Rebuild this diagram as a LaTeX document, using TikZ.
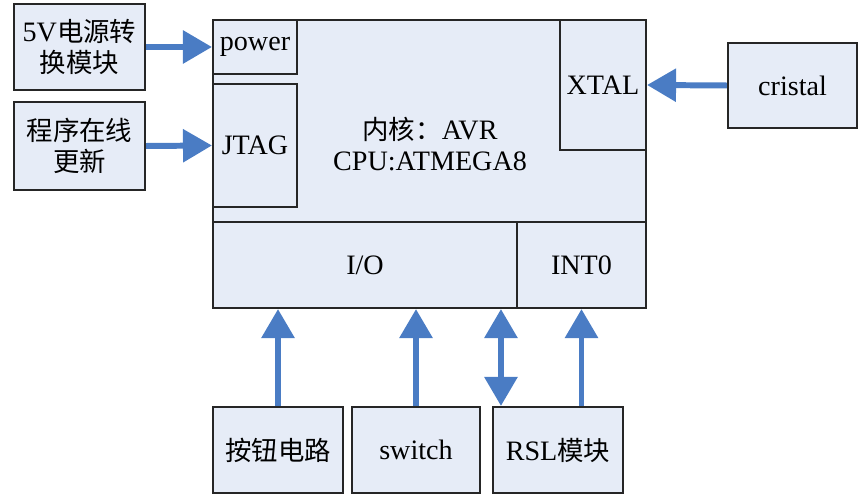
\documentclass[tikz,border=0pt]{standalone}
\usepackage{fontspec}
\setmainfont{Liberation Serif}
\newfontfamily\cjk[Scale=0.94]{Noto Sans CJK SC}
\usetikzlibrary{arrows.meta}
\definecolor{boxfill}{HTML}{E6ECF7}
\definecolor{arrblue}{HTML}{4A7CC4}
\tikzset{
  box/.style={draw=black!85, line width=1.2pt, fill=boxfill, inner sep=0pt, font=\fontsize{16}{18}\selectfont, align=center},
  arr/.style={draw=arrblue, line width=3.4pt, -{Triangle[length=0.58cm,width=0.64cm]}},
  dblarr/.style={draw=arrblue, line width=3.4pt, {Triangle[length=0.58cm,width=0.64cm]}-{Triangle[length=0.58cm,width=0.64cm]}}
}
\begin{document}
\begin{tikzpicture}[x=0.02cm, y=-0.02cm]
    \useasboundingbox (0,0) rectangle (865,499);
\node[box, minimum width=8.66cm, minimum height=5.76cm] (mcu) at (429.5,164) {};
\node[box, minimum width=1.68cm, minimum height=1.08cm] (power) at (255,47) {power};
\node[box, minimum width=1.68cm, minimum height=2.46cm] (jtag) at (255,145.5) {JTAG};
\node[box, minimum width=1.72cm, minimum height=2.6cm] (xtal) at (603,85) {XTAL};
\node[box, minimum width=6.08cm, minimum height=1.72cm] (io) at (365,265) {I/O};
\node[box, minimum width=2.58cm, minimum height=1.72cm] (int0) at (581.5,265) {INT0};
\node[font=\fontsize{16}{18}\selectfont, align=center] (core) at (430,144) {{\cjk 内核：}AVR\\CPU:ATMEGA8};
    % outside modules
\node[box, minimum width=2.62cm, minimum height=1.72cm] (psu) at (79.5,47) {5V{\cjk 电源转}\\{\cjk 换模块}};
\node[box, minimum width=2.62cm, minimum height=1.76cm] (isp) at (79.5,146) {{\cjk 程序在线}\\{\cjk 更新}};
\node[box, minimum width=2.58cm, minimum height=1.7cm] (cristal) at (792.5,85.5) {cristal};
\node[box, minimum width=2.6cm, minimum height=1.72cm] (key) at (278,450) {\cjk 按钮电路};
\node[box, minimum width=2.56cm, minimum height=1.72cm] (switch) at (416,450) {switch};
\node[box, minimum width=2.6cm, minimum height=1.72cm] (rsl) at (558,450) {RSL{\cjk 模块}};
    % connections
\draw[arr] (psu.east) -- (power.west);
\draw[arr] (isp.east) -- (jtag.west);
\draw[arr] (cristal.west) -- (xtal.east);
\draw[arr] (key.north) -- (key.north |- io.south);
\draw[arr] (switch.north) -- (switch.north |- io.south);
\coordinate (rslio) at ([xshift=0.18cm]rsl.north west);
\draw[dblarr] (rslio) -- (rslio |- io.south);
\draw[arr] (rsl.north -| int0.south) -- (int0.south);
    \end{tikzpicture}
\end{document}
